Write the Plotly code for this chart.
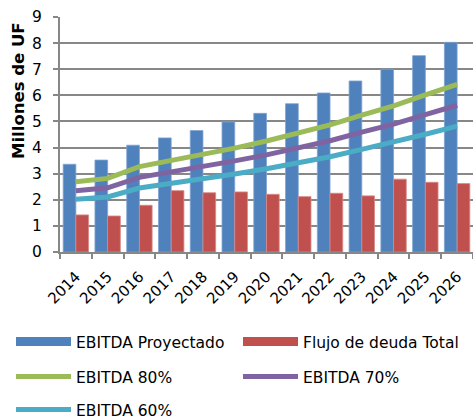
import plotly.graph_objects as go

years = ["2014", "2015", "2016", "2017", "2018", "2019", "2020", "2021", "2022", "2023", "2024", "2025", "2026"]
ebitda = [3.36, 3.52, 4.09, 4.37, 4.65, 4.98, 5.31, 5.68, 6.09, 6.55, 7.00, 7.52, 8.03]
flujo = [1.42, 1.38, 1.79, 2.35, 2.27, 2.30, 2.21, 2.12, 2.25, 2.15, 2.79, 2.67, 2.62]
e80 = [2.69, 2.82, 3.27, 3.50, 3.72, 3.98, 4.25, 4.54, 4.87, 5.24, 5.60, 6.02, 6.42]
e70 = [2.35, 2.46, 2.86, 3.06, 3.26, 3.49, 3.72, 3.98, 4.26, 4.59, 4.90, 5.26, 5.62]
e60 = [2.02, 2.11, 2.45, 2.62, 2.79, 2.99, 3.19, 3.41, 3.65, 3.93, 4.20, 4.51, 4.82]

BLUE, RED, GREEN, PURPLE, CYAN = "#4F81BD", "#C0504D", "#9BBB59", "#8064A2", "#4BACC6"
W, H = 473, 419
L, T, B = 60, 17, 167

fig = go.Figure()
fig.add_trace(go.Bar(x=years, y=ebitda, name="EBITDA Proyectado", marker=dict(color=BLUE, line=dict(color="#7FA3D2", width=0.8)), showlegend=False))
fig.add_trace(go.Bar(x=years, y=flujo, name="Flujo de deuda Total", marker=dict(color=RED, line=dict(color="#D88A88", width=0.8)), showlegend=False))
# legend entries for bars (wide rectangles)
fig.add_trace(go.Scatter(x=[None], y=[None], mode="lines", name="EBITDA Proyectado", line=dict(color=BLUE, width=9), legend="legend"))
fig.add_trace(go.Scatter(x=[None], y=[None], mode="lines", name="Flujo de deuda Total", line=dict(color=RED, width=9), legend="legend2"))
fig.add_trace(go.Scatter(x=years, y=e80, mode="lines", name="EBITDA 80%", line=dict(color=GREEN, width=5), legend="legend3"))
fig.add_trace(go.Scatter(x=years, y=e70, mode="lines", name="EBITDA 70%", line=dict(color=PURPLE, width=5), legend="legend4"))
fig.add_trace(go.Scatter(x=years, y=e60, mode="lines", name="EBITDA 60%", line=dict(color=CYAN, width=5), legend="legend5"))

def leg(xp, yc):
    return dict(orientation="h", xref="container", yref="container", x=xp / W, xanchor="left",
                y=1 - yc / H, yanchor="middle", itemwidth=55,
                font=dict(size=15.5, family="DejaVu Sans"), bgcolor="rgba(0,0,0,0)")

fig.update_layout(
    width=W, height=H,
    margin=dict(l=L, r=0, t=T, b=B, autoexpand=False),
    paper_bgcolor="white", plot_bgcolor="white",
    font=dict(family="DejaVu Sans", color="#000000"),
    barmode="group", bargap=0.2, bargroupgap=0,
    showlegend=True,
    legend=leg(11, 342), legend2=leg(238, 342), legend3=leg(11, 377), legend4=leg(238, 377),
    legend5=leg(11, 410),
    annotations=[dict(text="<b>Millones de UF</b>", textangle=-90, xref="paper", yref="paper",
                      x=(18 - L) / (W - L), y=1 - (91 - T) / (H - T - B), xanchor="center", yanchor="middle",
                      showarrow=False, font=dict(size=16.5, family="DejaVu Sans", color="#000000"))],
)
fig.update_yaxes(range=[0, 9], dtick=1, showgrid=True, gridcolor="#878787", gridwidth=2,
                 showline=True, linecolor="#878787", linewidth=2, ticks="outside", ticklen=5,
                 tickcolor="#878787", tickwidth=2, tickfont=dict(size=15.5, family="DejaVu Sans"),
                 ticklabelstandoff=8, automargin=False, zeroline=False)
fig.update_xaxes(type="category", showline=True, linecolor="#878787", linewidth=2, ticks="outside",
                 ticklen=5, tickcolor="#878787", tickwidth=2, tickson="boundaries", tickangle=-45,
                 ticklabelstandoff=8,
                 tickfont=dict(size=15, family="DejaVu Sans"), showgrid=False, automargin=False)

fig.write_html("out.html", config={"displayModeBar": False},
               post_script="document.body.style.margin='0px';")
